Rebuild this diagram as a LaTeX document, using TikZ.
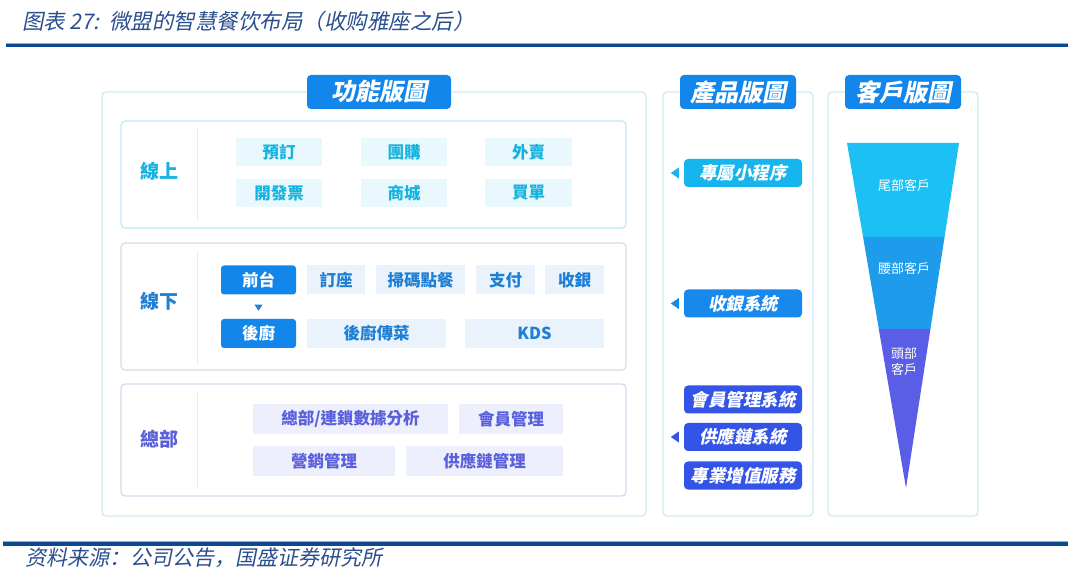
\documentclass[tikz,border=0pt]{standalone}
\usepackage{fontspec}
\usetikzlibrary{calc}
\newfontfamily\tc{Noto Sans CJK TC}
\newfontfamily\tcsl{Noto Sans CJK TC}[FakeSlant=0.2]
\newfontfamily\scsl{Noto Sans CJK SC}[FakeSlant=0.2]
\definecolor{navy}{HTML}{0B4A93}
\definecolor{navylight}{HTML}{8FB0D6}
\definecolor{titlec}{HTML}{2A4F8F}
\definecolor{panelc}{HTML}{D3EAF5}
\definecolor{tabc}{HTML}{1286EA}
\definecolor{onb}{HTML}{BDEBF3}
\definecolor{onf}{HTML}{E8F8FD}
\definecolor{ont}{HTML}{17B3E0}
\definecolor{offb}{HTML}{CFE0EC}
\definecolor{offf}{HTML}{EAF3FB}
\definecolor{offt}{HTML}{1E7FD6}
\definecolor{hqb}{HTML}{D8D8EE}
\definecolor{hqf}{HTML}{EEEFFC}
\definecolor{hqt}{HTML}{5A5FDB}
\definecolor{divc}{HTML}{E3ECF2}
\definecolor{pcyan}{HTML}{17B5EE}
\definecolor{pblue}{HTML}{1788EC}
\definecolor{pindigo}{HTML}{3354E6}
\definecolor{fone}{HTML}{1CC0F4}
\definecolor{ftwo}{HTML}{1E9CEB}
\definecolor{fthree}{HTML}{5A5DE6}
\begin{document}
\begin{tikzpicture}[x=1pt,y=-1pt,
  panel/.style={draw=panelc, line width=1.4pt, rounded corners=4pt},
  tab/.style={fill=tabc, rounded corners=4pt, text=white, inner sep=0pt,
    font=\tcsl\bfseries\fontsize{24}{24}\selectfont},
  sec/.style={line width=1.2pt, rounded corners=4pt},
  divline/.style={draw=divc, line width=1pt},
  item/.style={inner sep=0pt, font=\tc\bfseries\fontsize{16.5}{16.5}\selectfont},
  onitem/.style={item, fill=onf, text=ont, minimum height=28pt},
  offitem/.style={item, fill=offf, text=offt, minimum height=29pt},
  keyitem/.style={item, fill=tabc, text=white, rounded corners=3pt, minimum width=75pt, minimum height=29pt},
  hqitem/.style={item, fill=hqf, text=hqt, minimum height=30pt},
  seclabel/.style={font=\tc\bfseries\fontsize{19}{19}\selectfont},
  prod/.style={inner sep=0pt, rounded corners=4pt, text=white, minimum width=118pt, minimum height=28pt,
    font=\tcsl\bfseries\fontsize{17.5}{17.5}\selectfont},
  ftext/.style={text=white, font=\tc\fontsize{13}{16}\selectfont, align=center}
]
\useasboundingbox (0,0) rectangle (1080,585);
\fill[white] (0,0) rectangle (1080,585);

% header and footer
\node[anchor=west, text=titlec, font=\scsl\fontsize{21.5}{21.5}\selectfont, inner sep=0pt] (title) at (22,21) {图表 27:\ \ 微盟的智慧餐饮布局（收购雅座之后）};
\fill[navylight] (6,43) rectangle (1068,44);
\fill[navy] (6,44) rectangle (1068,47.5);
\fill[navylight] (3,541) rectangle (1068,542);
\fill[navy] (3,542) rectangle (1068,545.5);
\node[anchor=west, text=titlec, font=\scsl\fontsize{21}{21}\selectfont, inner sep=0pt] (source) at (25,558) {资料来源：公司公告，国盛证券研究所};

% panels
\draw[panel] (102,92) rectangle (646,516);
\draw[panel] (663,92) rectangle (813,516);
\draw[panel] (828,92) rectangle (978,516);
\node[tab, minimum width=144pt, minimum height=34pt] (tabf) at (379,92) {功能版圖};
\node[tab, minimum width=116pt, minimum height=34pt] (tabp) at (738,92) {產品版圖};
\node[tab, minimum width=116pt, minimum height=34pt] (tabc) at (903,92) {客戶版圖};

% online section
\draw[sec, draw=onb] (121,121) rectangle (626,228);
\draw[divline] (197,128) -- (197,221);
\node[seclabel, text=ont] (lon) at (159,171) {線上};
\node[onitem, minimum width=86pt] (yd) at (279,152) {預訂};
\node[onitem, minimum width=86pt] (tg) at (404,152) {團購};
\node[onitem, minimum width=87pt] (wm) at (528.5,152) {外賣};
\node[onitem, minimum width=86pt] (kfp) at (279,193) {開發票};
\node[onitem, minimum width=86pt] (sc) at (404,193) {商城};
\node[onitem, minimum width=87pt] (md) at (528.5,193) {買單};

% offline section
\draw[sec, draw=offb] (121,243) rectangle (626,370);
\draw[divline] (197,251) -- (197,364);
\node[seclabel, text=offt] (loff) at (159,301) {線下};
\node[keyitem] (qt) at (258.5,280) {前台};
\node[keyitem] (hc) at (258.5,333.5) {後廚};
\fill[offt] ($(qt.south)+(-4,10)$) -- ++(8,0) -- ($(qt.south)+(0,16)$) -- cycle;
\node[offitem, minimum width=58pt] (dz) at (336,280) {訂座};
\node[offitem, minimum width=89pt] (smdc) at (420.5,280) {掃碼點餐};
\node[offitem, minimum width=59pt] (zf) at (505.5,280) {支付};
\node[offitem, minimum width=59pt] (sy) at (574.5,280) {收銀};
\node[offitem, minimum width=139pt] (hccc) at (376.5,333.5) {後廚傳菜};
\node[offitem, minimum width=139pt] (kds) at (534.5,333.5) {KDS};

% HQ section
\draw[sec, draw=hqb] (121,384) rectangle (626,496);
\draw[divline] (197,393) -- (197,489);
\node[seclabel, text=hqt] (lhq) at (159,439) {總部};
\node[hqitem, minimum width=195pt] (fx) at (350.5,419) {總部/連鎖數據分析};
\node[hqitem, minimum width=104pt] (hy) at (511,419) {會員管理};
\node[hqitem, minimum width=142pt] (yx) at (324,461) {營銷管理};
\node[hqitem, minimum width=157pt] (gy) at (484.5,461) {供應鏈管理};

% product panel
\node[prod, fill=pcyan] (p1) at (743,173) {專屬小程序};
\node[prod, fill=pblue] (p2) at (743,303.5) {收銀系統};
\node[prod, fill=pindigo] (p3) at (743,399.5) {會員管理系統};
\node[prod, fill=pindigo] (p4) at (743,437) {供應鏈系統};
\node[prod, fill=pindigo] (p5) at (743,475.5) {專業增值服務};
\fill[pcyan] ($(p1.west)+(-5,-5.5)$) -- ++(0,11) -- ($(p1.west)+(-13,0)$) -- cycle;
\fill[pblue] ($(p2.west)+(-5,-5.5)$) -- ++(0,11) -- ($(p2.west)+(-13,0)$) -- cycle;
\fill[pindigo] ($(p4.west)+(-5,-5.5)$) -- ++(0,11) -- ($(p4.west)+(-13,0)$) -- cycle;

% customer funnel
\coordinate (ftl) at (847,143);
\coordinate (ftr) at (959,143);
\coordinate (ftip) at (906,488);
\coordinate (b1l) at ($(ftl)!0.2725!(ftip)$);
\coordinate (b1r) at ($(ftr)!0.2725!(ftip)$);
\coordinate (b2l) at ($(ftl)!0.539!(ftip)$);
\coordinate (b2r) at ($(ftr)!0.539!(ftip)$);
\fill[fone] (ftl) -- (ftr) -- (b1r) -- (b1l) -- cycle;
\fill[ftwo] (b1l) -- (b1r) -- (b2r) -- (b2l) -- cycle;
\fill[fthree] (b2l) -- (b2r) -- (ftip) -- cycle;
\node[ftext] (c1) at (904,186) {尾部客戶};
\node[ftext] (c2) at (904,269) {腰部客戶};
\node[ftext] (c3) at (904,362) {頭部\\客戶};
\end{tikzpicture}
\end{document}
